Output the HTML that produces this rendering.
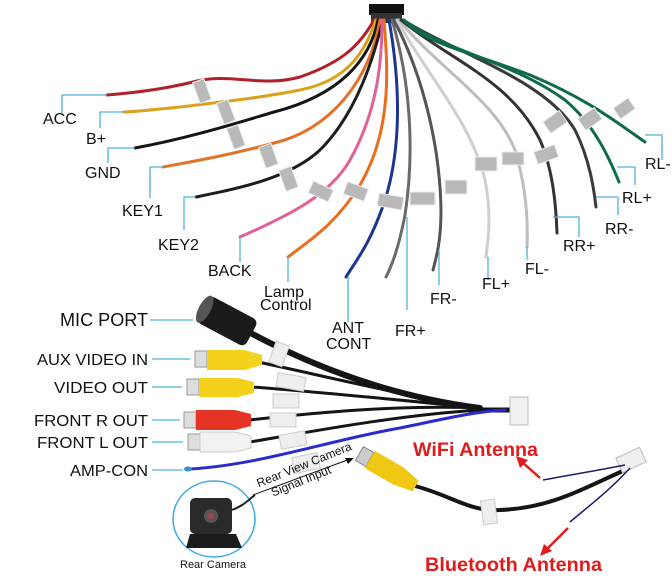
<!DOCTYPE html>
<html><head><meta charset="utf-8"><style>
html,body{margin:0;padding:0;background:#fff;}
svg{display:block}
text{font-family:"Liberation Sans",sans-serif;fill:#111}
.l{font-size:16px}
.ld{stroke:#4fb3dc;stroke-width:1.3;fill:none}
.w{fill:none;stroke-linecap:round}
.tag{fill:#b9b9b9;stroke:#eee;stroke-width:1}
</style></head><body>
<svg width="672" height="586" viewBox="0 0 672 586" xmlns="http://www.w3.org/2000/svg">
<rect x="369" y="4" width="35" height="11" fill="#111"/>
<rect x="371" y="13" width="31" height="10" fill="#333"/>
<g class="w" stroke-width="3">
<path d="M374,20 C360,45 343,62 300,77 C260,88 230,72 193,82 C160,90 130,93 107,95" stroke="#b0202a"/>
<path d="M376,20 C365,50 350,80 300,90 C260,98 220,102 180,107 C150,110 135,112 124,112" stroke="#d9a21a"/>
<path d="M378,20 C370,60 340,95 274,112 C240,122 190,138 135,148" stroke="#151515"/>
<path d="M380,20 C370,80 330,130 274,143 C230,155 190,162 163,167" stroke="#e07328"/>
<path d="M383,20 C375,50 360,110 320,150 C290,178 240,188 196,197" stroke="#1d1d1d"/>
<path d="M382,20 C382,60 378,110 350,160 C330,195 290,215 240,237" stroke="#e0609a"/>
<path d="M384,20 C388,70 392,130 360,185 C335,225 310,240 288,257" stroke="#e86d1d"/>
<path d="M389,20 C398,70 404,140 385,200 C370,245 355,262 346,277" stroke="#1c3591"/>
<path d="M392,20 C410,80 415,150 405,215 C398,250 392,265 386,277" stroke="#6a6a6a"/>
<path d="M394,20 C425,80 440,150 441,210 C441,240 437,255 433,270" stroke="#555"/>
<path d="M397,20 C430,80 470,120 485,180 C492,215 488,240 486,257" stroke="#cfcfcf"/>
<path d="M399,20 C440,70 495,100 515,150 C527,190 528,225 527,247" stroke="#bdbdbd"/>
<path d="M401,20 C450,60 510,80 540,140 C553,170 556,205 557,233" stroke="#333"/>
<path d="M403,20 C460,55 545,80 575,130 C590,160 594,190 596,207" stroke="#3a3a3a"/>
<path d="M404,20 C440,50 510,60 565,100 C595,125 610,160 619,182" stroke="#0f6a4b"/>
<path d="M406,22 C430,45 470,52 530,75 C590,100 620,125 645,142" stroke="#0f6a4b"/>
</g>
<g class="tag">
<rect x="196" y="80" width="12" height="22" transform="rotate(-20 202 91)"/>
<rect x="220" y="101" width="12" height="22" transform="rotate(-20 226 112)"/>
<rect x="230" y="126" width="12" height="22" transform="rotate(-20 236 137)"/>
<rect x="262" y="145" width="13" height="22" transform="rotate(-20 268 156)"/>
<rect x="282" y="168" width="13" height="22" transform="rotate(-20 288 179)"/>
<rect x="310" y="185" width="22" height="13" transform="rotate(25 321 191)"/>
<rect x="345" y="185" width="22" height="13" transform="rotate(20 356 191)"/>
<rect x="378" y="195" width="25" height="13" transform="rotate(10 390 201)"/>
<rect x="410" y="192" width="25" height="13"/>
<rect x="445" y="180" width="22" height="14"/>
<rect x="475" y="157" width="22" height="14"/>
<rect x="502" y="152" width="22" height="13"/>
<rect x="535" y="148" width="22" height="13" transform="rotate(-20 546 154)"/>
<rect x="545" y="115" width="20" height="14" transform="rotate(-35 555 122)"/>
<rect x="580" y="112" width="20" height="14" transform="rotate(-35 590 119)"/>
<rect x="615" y="102" width="18" height="13" transform="rotate(-35 624 108)"/>
</g>
<g class="ld">
<path d="M107,95 H62 V113"/><path d="M124,112 H100 V128"/><path d="M135,148 H108 V163"/>
<path d="M163,167 H150 V198"/><path d="M196,197 H184 V230"/><path d="M240,237 V262"/>
<path d="M288,257 V282"/><path d="M348,277 V322"/><path d="M407,217 V310"/>
<path d="M439,250 V285"/><path d="M488,257 V280"/><path d="M527,247 V260"/>
<path d="M553,217 H579 V237"/><path d="M596,197 H618 V215"/><path d="M617,167 H635 V185"/>
<path d="M645,135 H662 V160"/>
</g>
<g class="l">
<text x="43" y="124">ACC</text><text x="86" y="144">B+</text><text x="85" y="178">GND</text>
<text x="122" y="216">KEY1</text><text x="158" y="250">KEY2</text><text x="208" y="276">BACK</text>
<text x="264" y="297">Lamp</text><text x="260" y="310">Control</text>
<text x="332" y="333">ANT</text><text x="326" y="349">CONT</text>
<text x="395" y="336">FR+</text><text x="430" y="304">FR-</text><text x="482" y="289">FL+</text>
<text x="525" y="274">FL-</text><text x="563" y="251">RR+</text><text x="605" y="234">RR-</text>
<text x="622" y="203">RL+</text><text x="645" y="169">RL-</text>
</g>
<g class="w" stroke="#151515">
<path d="M245,330 C300,360 380,395 480,408" stroke-width="6"/>
<path d="M258,362 C320,375 400,395 480,408" stroke-width="3"/>
<path d="M252,387 C320,392 400,400 480,408" stroke-width="3"/>
<path d="M250,420 C320,412 400,405 480,408" stroke-width="3"/>
<path d="M250,442 C320,430 400,415 480,410" stroke-width="3"/>
<path d="M470,410 H512" stroke-width="5"/>
</g>
<path d="M190,469 C260,465 330,440 400,428 C440,420 470,412 505,410" class="w" stroke="#2a2ad0" stroke-width="3"/>
<rect x="510" y="397" width="18" height="28" fill="#f1f1f1" stroke="#bbb"/>
<g transform="rotate(28 225 320)">
<rect x="200" y="305" width="55" height="30" rx="6" fill="#1a1a1a"/>
<ellipse cx="202" cy="320" rx="6" ry="15" fill="#555"/>
</g>
<rect x="272" y="343" width="14" height="22" fill="#eee" stroke="#ccc" transform="rotate(20 279 354)"/>
<g>
<rect x="195" y="351" width="12" height="16" fill="#ddd" stroke="#999"/><path d="M207,350 H245 L262,355 V365 L245,370 H207 Z" fill="#f4d21b"/>
<rect x="187" y="379" width="12" height="16" fill="#ddd" stroke="#999"/><path d="M199,378 H238 L254,382 V393 L238,397 H199 Z" fill="#f4d21b"/>
<rect x="184" y="412" width="12" height="16" fill="#ddd" stroke="#999"/><path d="M196,410 H235 L251,414 V426 L235,430 H196 Z" fill="#e53325"/>
<rect x="188" y="434" width="12" height="16" fill="#ddd" stroke="#999"/><path d="M200,432 H235 L251,436 V448 L235,452 H200 Z" fill="#f2f2f2" stroke="#ccc"/>
<ellipse cx="188" cy="469" rx="4" ry="2.5" fill="#3b8fd0"/>
</g>
<g class="tag" style="fill:#eee;stroke:#ccc">
<rect x="277" y="375" width="28" height="14" transform="rotate(10 291 382)"/>
<rect x="273" y="394" width="26" height="14"/><rect x="270" y="413" width="26" height="14"/>
<rect x="280" y="433" width="26" height="14" transform="rotate(-10 293 440)"/>
<rect x="293" y="455" width="26" height="16" transform="rotate(-12 306 463)"/>
</g>
<g class="ld">
<path d="M150,320 H193"/><path d="M152,359 H190"/><path d="M152,387 H182"/>
<path d="M152,420 H180"/><path d="M152,442 H183"/><path d="M152,470 H183"/>
</g>
<g class="l">
<text x="60" y="326" font-size="18" textLength="88" lengthAdjust="spacingAndGlyphs">MIC PORT</text>
<text x="37" y="365" textLength="111" lengthAdjust="spacingAndGlyphs">AUX VIDEO IN</text>
<text x="54" y="393" textLength="94" lengthAdjust="spacingAndGlyphs">VIDEO OUT</text>
<text x="34" y="426" textLength="114" lengthAdjust="spacingAndGlyphs">FRONT R OUT</text>
<text x="37" y="448" textLength="111" lengthAdjust="spacingAndGlyphs">FRONT L OUT</text>
<text x="70" y="476" textLength="78" lengthAdjust="spacingAndGlyphs">AMP-CON</text>
</g>
<ellipse cx="214" cy="519" rx="41" ry="38" fill="none" stroke="#3aa8e0" stroke-width="1.5"/>
<rect x="190" y="498" width="42" height="36" rx="5" fill="#2a2a2a"/>
<circle cx="211" cy="516" r="7" fill="#555"/><circle cx="211" cy="516" r="3" fill="#b04050"/>
<path d="M190,534 L236,534 L242,548 L186,548 Z" fill="#1c1c1c"/>
<path d="M232,510 C245,505 248,500 255,495" stroke="#222" stroke-width="2" fill="none"/>
<text x="180" y="568" font-size="11">Rear Camera</text>
<line x1="253" y1="495" x2="350" y2="459" stroke="#111" stroke-width="1"/>
<path d="M354,458 L345,458 L348,464 Z" fill="#111"/>
<g transform="rotate(-22 262 485)">
<text x="258" y="486" font-size="12">Rear View Camera</text>
<text x="268" y="500" font-size="12">Signal Input</text>
</g>
<path d="M415,486 C450,495 470,512 500,510 C550,508 580,490 625,470" class="w" stroke="#151515" stroke-width="4"/>
<g transform="rotate(30 388 470)">
<rect x="355" y="462" width="12" height="16" fill="#ccc" stroke="#888"/>
<path d="M367,460 H400 L420,464 V476 L400,480 H367 Z" fill="#f0c814"/>
</g>
<rect x="482" y="500" width="14" height="24" fill="#eee" stroke="#ccc" transform="rotate(-8 489 512)"/>
<rect x="618" y="452" width="26" height="16" fill="#eee" stroke="#bbb" transform="rotate(-25 631 460)"/>
<path d="M625,465 C600,470 570,475 543,480" stroke="#1c1c70" stroke-width="1.5" fill="none"/>
<path d="M630,468 C610,490 590,505 570,522" stroke="#1c1c70" stroke-width="1.5" fill="none"/>
<text x="413" y="456" font-size="19" font-weight="bold" style="fill:#e01b1b" textLength="125" lengthAdjust="spacingAndGlyphs">WiFi Antenna</text>
<line x1="540" y1="478" x2="522" y2="462" stroke="#e01b1b" stroke-width="2.5"/>
<path d="M516,456 L528,460 L520,468 Z" fill="#e01b1b"/>
<line x1="568" y1="528" x2="546" y2="550" stroke="#e01b1b" stroke-width="2.5"/>
<path d="M540,556 L544,544 L552,551 Z" fill="#e01b1b"/>
<text x="425" y="571" font-size="19" font-weight="bold" style="fill:#e01b1b" textLength="177" lengthAdjust="spacingAndGlyphs">Bluetooth Antenna</text>
</svg>
</body></html>
